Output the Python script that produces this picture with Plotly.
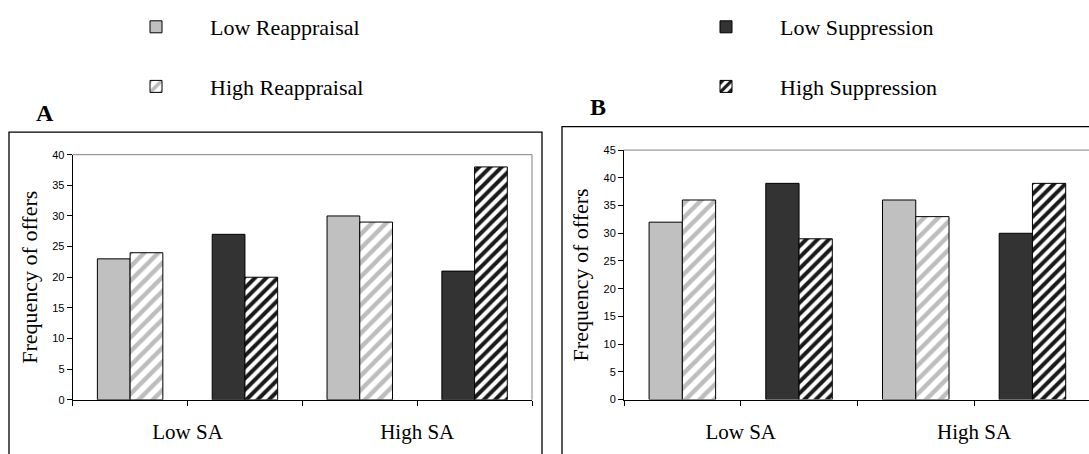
import plotly.graph_objects as go

# Category slots along the x axis: Reappraisal / Suppression pairs for each SA level
slot_centers = [0.5, 1.5, 2.5, 3.5]
tick_positions = [0, 1, 2, 3, 4]
tick_labels = ["", "Low SA", "", "High SA", ""]

# Frequencies of offers, panel A
a_low_reappraisal = [23, 30]
a_high_reappraisal = [24, 29]
a_low_suppression = [27, 21]
a_high_suppression = [20, 38]

# Frequencies of offers, panel B
b_low_reappraisal = [32, 36]
b_high_reappraisal = [36, 33]
b_low_suppression = [39, 30]
b_high_suppression = [29, 39]

W, H = 1089, 454
BAR_W = 0.285
SERIF = "Liberation Serif"
SANS = "Liberation Sans"


def px_x(v):
    return v / W


def px_y(v):
    return 1 - v / H


styles = {
    "Low Reappraisal": dict(color="#c0c0c0", line=dict(color="#000", width=1)),
    "High Reappraisal": dict(color="#ffffff", line=dict(color="#000", width=1),
                             pattern=dict(shape="/", fgcolor="#bdbdbd", bgcolor="#ffffff",
                                          fgopacity=1, size=10, solidity=0.45)),
    "Low Suppression": dict(color="#333333", line=dict(color="#000", width=1)),
    "High Suppression": dict(color="#ffffff", line=dict(color="#000", width=1),
                             pattern=dict(shape="/", fgcolor="#1a1a1a", bgcolor="#ffffff",
                                          fgopacity=1, size=8, solidity=0.5)),
}

fig = go.Figure()


def add_panel(xa, ya, lr, hr, ls, hs, show_legend):
    reapp_x = [slot_centers[0], slot_centers[2]]
    supp_x = [slot_centers[1], slot_centers[3]]
    series = [
        ("Low Reappraisal", reapp_x, lr, -BAR_W, "legend"),
        ("High Reappraisal", reapp_x, hr, 0.0, "legend"),
        ("Low Suppression", supp_x, ls, -BAR_W, "legend2"),
        ("High Suppression", supp_x, hs, 0.0, "legend2"),
    ]
    for name, xs, ys, off, lg in series:
        fig.add_trace(go.Bar(
            x=xs, y=ys, name=name, width=BAR_W, offset=off,
            marker=styles[name], xaxis=xa, yaxis=ya,
            showlegend=show_legend, legend=lg, legendgroup=name,
        ))


add_panel("x", "y", a_low_reappraisal, a_high_reappraisal,
          a_low_suppression, a_high_suppression, True)
add_panel("x2", "y2", b_low_reappraisal, b_high_reappraisal,
          b_low_suppression, b_high_suppression, False)

# Plot areas in pixels
a_left, a_right, a_top, a_bottom = 72.7, 532.0, 152.7, 404.5
b_left, b_top, b_bottom = 624.0, 148.0, 404.3
b_slot = 116.7
b_range_end = (W - b_left) / b_slot

xaxis_common = dict(
    tickmode="array", tickvals=tick_positions, ticktext=tick_labels,
    ticks="outside", ticklen=5, tickcolor="#000", showline=True, linecolor="#000",
    linewidth=1, showgrid=False, zeroline=False, ticklabelstandoff=8,
)
yaxis_common = dict(
    dtick=5, ticks="outside", ticklen=5, tickcolor="#000", showline=True,
    linecolor="#000", linewidth=1, showgrid=False, zeroline=False,
    tickfont=dict(family=SANS, size=11, color="#000"),
    title=dict(text="Frequency of offers", font=dict(family=SERIF, size=22, color="#000"),
               standoff=8),
)

legend_common = dict(
    xanchor="left", yanchor="top", itemwidth=98,
    font=dict(family=SERIF, size=22, color="#000"),
    bgcolor="rgba(0,0,0,0)", tracegroupgap=28, traceorder="grouped",
)

fig.update_layout(
    width=W, height=H, margin=dict(l=0, r=0, t=0, b=0),
    paper_bgcolor="#fff", plot_bgcolor="#fff", barmode="overlay",
    font=dict(family=SERIF, color="#000"),
    xaxis=dict(domain=[px_x(a_left), px_x(a_right)], range=[0, 4], anchor="y", **xaxis_common),
    yaxis=dict(domain=[px_y(a_bottom), px_y(a_top)], range=[0, 40], anchor="x", **yaxis_common),
    xaxis2=dict(domain=[px_x(b_left), 1.0], range=[0, b_range_end], anchor="y2", **xaxis_common),
    yaxis2=dict(domain=[px_y(b_bottom), px_y(b_top)], range=[0, 45], anchor="x2", **yaxis_common),
    legend=dict(x=px_x(102), y=px_y(0), **legend_common),
    legend2=dict(x=px_x(672), y=px_y(0), **legend_common),
    showlegend=True,
)
# Serif category labels under both panels
fig.update_xaxes(tickfont=dict(family=SERIF, size=21, color="#000"))

# Gray plot-area border on top and right of each panel
gray = dict(color="#808080", width=1)
fig.add_shape(type="line", xref="x domain", yref="y domain", x0=0, x1=1, y0=1, y1=1, line=gray)
fig.add_shape(type="line", xref="x domain", yref="y domain", x0=1, x1=1, y0=0, y1=1, line=gray)
fig.add_shape(type="line", xref="x2 domain", yref="y2 domain", x0=0, x1=1, y0=1, y1=1, line=gray)

# Outer frames around the panels
frame = dict(color="#000", width=1.3)
fig.add_shape(type="rect", xref="paper", yref="paper",
              x0=px_x(9), x1=px_x(542), y0=px_y(470), y1=px_y(129.5), line=frame)
fig.add_shape(type="rect", xref="paper", yref="paper",
              x0=px_x(562), x1=px_x(1100), y0=px_y(470), y1=px_y(124), line=frame)

# Panel letters
for letter, x, y in [("A", 45, 110), ("B", 598, 104)]:
    fig.add_annotation(text="<b>%s</b>" % letter, xref="paper", yref="paper",
                       x=px_x(x), y=px_y(y), xanchor="center", yanchor="middle",
                       showarrow=False, font=dict(family=SERIF, size=24, color="#000"))

fig.write_html("out.html")
